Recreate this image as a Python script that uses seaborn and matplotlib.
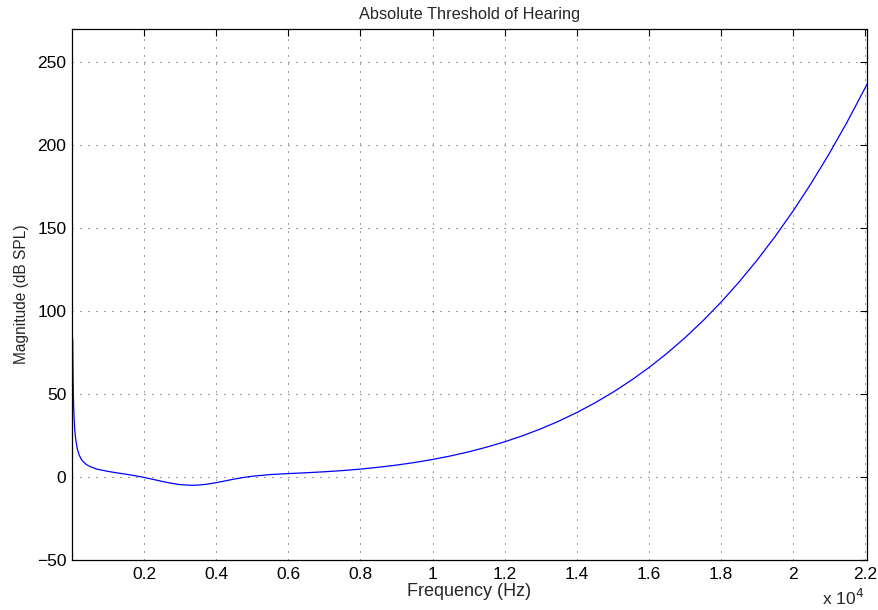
import matplotlib
matplotlib.use("Agg")
import matplotlib.pyplot as plt
import seaborn as sns
import pandas as pd

# Frequency samples (Hz) and threshold values (dB SPL)
freq_hz = [20, 25, 30, 40, 50, 60, 75, 100, 150, 200, 250, 300, 400, 500, 700,
           1000, 1250, 1500, 1750, 2000, 2250, 2500, 2750, 3000, 3300, 3500,
           3750, 4000, 4250, 4500, 4750, 5000, 5500, 6000, 6500, 7000, 7500,
           8000, 8500, 9000, 9500, 10000, 10500, 11000, 11500, 12000, 12500,
           13000, 13500, 14000, 14500, 15000, 15500, 16000, 16500, 17000,
           17500, 18000, 18500, 19000, 19500, 20000, 20500, 21000, 21500,
           22000, 22050]
threshold_db = [83.2, 69.6, 60.2, 47.8, 40.0, 34.6, 28.9, 23.0, 16.6, 13.2,
                11.0, 9.5, 7.5, 6.3, 4.7, 3.4, 2.5, 1.7, 0.8, -0.25, -1.43,
                -2.64, -3.74, -4.57, -4.98, -4.86, -4.30, -3.39, -2.31, -1.24,
                -0.28, 0.48, 1.49, 2.09, 2.58, 3.17, 3.89, 4.78, 5.88, 7.19,
                8.75, 10.58, 12.71, 15.17, 18.01, 21.24, 24.89, 29.03, 33.67,
                38.86, 44.64, 51.05, 58.13, 65.93, 74.51, 83.90, 94.16, 105.34,
                117.49, 130.67, 144.93, 160.33, 176.93, 194.80, 213.99, 234.57,
                236.7]

x_ticks = [2000, 4000, 6000, 8000, 10000, 12000, 14000, 16000, 18000, 20000, 22000]
x_tick_labels = ["0.2", "0.4", "0.6", "0.8", "1", "1.2", "1.4", "1.6", "1.8", "2", "2.2"]
y_ticks = [-50, 0, 50, 100, 150, 200, 250]

df = pd.DataFrame({"Frequency": freq_hz, "Threshold": threshold_db})

sns.set_style("white")
plt.rcParams["font.family"] = ["Liberation Sans", "DejaVu Sans"]
plt.rcParams["axes.unicode_minus"] = True

fig = plt.figure(figsize=(8.79, 6.10), dpi=100)
ax = fig.add_axes([72 / 879, 1 - 560 / 610, (867 - 72) / 879, (560 - 29) / 610])

sns.lineplot(data=df, x="Frequency", y="Threshold", ax=ax, color="#0000ff",
             linewidth=0.9, estimator=None, sort=False)

ax.set_xlim(0, 22050)
ax.set_ylim(-50, 270)
ax.set_xticks(x_ticks)
ax.set_xticklabels(x_tick_labels)
ax.set_yticks(y_ticks)

ax.grid(True, color="0.25", linestyle=(0, (1, 7)), linewidth=0.72)
ax.tick_params(direction="in", length=5, width=0.8, top=True, right=True,
               labelsize=12.5, colors="black")
ax.tick_params(axis="x", pad=5)
ax.tick_params(axis="y", pad=4)
for s in ax.spines.values():
    s.set_visible(True)
    s.set_color("black")
    s.set_linewidth(0.9)

ax.set_title("Absolute Threshold of Hearing", fontsize=11.8, pad=7)
ax.set_xlabel("Frequency (Hz)", fontsize=13, labelpad=1)
ax.set_ylabel("Magnitude (dB SPL)", fontsize=11.2, labelpad=6)
fig.text(843 / 879, 1 - 598 / 610, r"x 10$^{4}$", fontsize=12.5, ha="center", va="center")

fig.savefig("out.png", dpi=100)
